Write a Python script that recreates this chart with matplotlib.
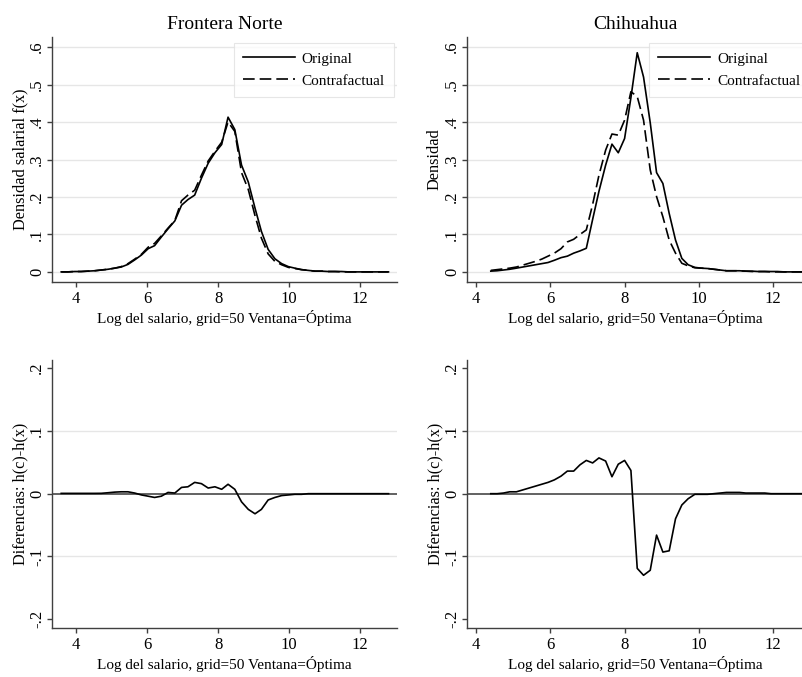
import matplotlib
matplotlib.use("Agg")
import matplotlib.pyplot as plt
from matplotlib.ticker import FuncFormatter

plt.rcParams['font.family'] = ['Liberation Serif', 'DejaVu Serif']

# ---- data: Frontera Norte (grid=50) ----
x_fn = [3.58, 3.77, 3.96, 4.14, 4.33, 4.52, 4.71, 4.90, 5.09, 5.27,
        5.46, 5.65, 5.84, 6.03, 6.21, 6.40, 6.59, 6.78, 6.97, 7.15,
        7.34, 7.53, 7.72, 7.91, 8.10, 8.28, 8.47, 8.66, 8.85, 9.04,
        9.22, 9.41, 9.60, 9.79, 9.98, 10.16, 10.35, 10.54, 10.73, 10.92,
        11.10, 11.29, 11.48, 11.67, 11.86, 12.05, 12.23, 12.42, 12.61, 12.80]
orig_fn = [0.000, 0.000, 0.001, 0.001, 0.002, 0.003, 0.005, 0.007, 0.010, 0.013,
           0.020, 0.032, 0.045, 0.062, 0.070, 0.093, 0.115, 0.136, 0.178, 0.193,
           0.205, 0.250, 0.290, 0.318, 0.340, 0.413, 0.380, 0.285, 0.240, 0.170,
           0.108, 0.060, 0.035, 0.022, 0.014, 0.010, 0.006, 0.004, 0.002, 0.002,
           0.001, 0.001, 0.001, 0.000, 0.000, 0.000, 0.000, 0.000, 0.000, 0.000]
cf_fn = [0.000, 0.000, 0.001, 0.001, 0.002, 0.003, 0.005, 0.007, 0.010, 0.014,
         0.022, 0.034, 0.047, 0.066, 0.076, 0.096, 0.117, 0.137, 0.190, 0.205,
         0.218, 0.258, 0.296, 0.322, 0.346, 0.400, 0.375, 0.265, 0.220, 0.150,
         0.090, 0.048, 0.028, 0.019, 0.012, 0.009, 0.006, 0.004, 0.002, 0.002,
         0.001, 0.001, 0.000, 0.000, 0.000, 0.000, 0.000, 0.000, 0.000, 0.000]
diff_fn = [0.0005, 0.0005, 0.0005, 0.0005, 0.0005, 0.0005, 0.0006, 0.0015, 0.0025, 0.003,
           0.003, 0.001, -0.002, -0.004, -0.006, -0.004, 0.002, 0.001, 0.010, 0.011,
           0.018, 0.016, 0.009, 0.011, 0.007, 0.015, 0.007, -0.013, -0.025, -0.032,
           -0.025, -0.010, -0.006, -0.003, -0.002, -0.001, -0.001, 0.000, 0.000, 0.000,
           0.000, 0.000, 0.000, 0.000, 0.000, 0.000, 0.000, 0.000, 0.000, 0.000]

# ---- data: Chihuahua (grid=50) ----
x_ch = [4.40, 4.57, 4.74, 4.91, 5.09, 5.26, 5.43, 5.60, 5.77, 5.94,
        6.11, 6.29, 6.46, 6.63, 6.80, 6.97, 7.14, 7.31, 7.49, 7.66,
        7.83, 8.00, 8.17, 8.34, 8.51, 8.69, 8.86, 9.03, 9.20, 9.37,
        9.54, 9.71, 9.89, 10.06, 10.23, 10.40, 10.57, 10.74, 10.91, 11.09,
        11.26, 11.43, 11.60, 11.77, 11.94, 12.11, 12.29, 12.46, 12.63, 12.80]
orig_ch = [0.002, 0.003, 0.005, 0.007, 0.010, 0.013, 0.016, 0.019, 0.022, 0.025,
           0.031, 0.038, 0.042, 0.050, 0.056, 0.063, 0.140, 0.215, 0.285, 0.341,
           0.318, 0.356, 0.465, 0.585, 0.520, 0.398, 0.265, 0.236, 0.156, 0.085,
           0.036, 0.019, 0.012, 0.010, 0.009, 0.007, 0.005, 0.003, 0.003, 0.003,
           0.002, 0.002, 0.001, 0.001, 0.001, 0.001, 0.000, 0.000, 0.000, 0.000]
cf_ch = [0.004, 0.006, 0.008, 0.010, 0.013, 0.018, 0.023, 0.028, 0.034, 0.042,
         0.050, 0.062, 0.080, 0.087, 0.100, 0.112, 0.180, 0.258, 0.325, 0.368,
         0.365, 0.405, 0.481, 0.468, 0.405, 0.272, 0.201, 0.147, 0.085, 0.050,
         0.023, 0.016, 0.011, 0.010, 0.009, 0.007, 0.005, 0.003, 0.003, 0.003,
         0.002, 0.001, 0.001, 0.001, 0.000, 0.000, 0.000, 0.000, 0.000, 0.000]
diff_ch = [0.000, 0.000, 0.001, 0.003, 0.003, 0.006, 0.009, 0.012, 0.015, 0.018,
           0.022, 0.028, 0.036, 0.036, 0.046, 0.053, 0.049, 0.057, 0.052, 0.027,
           0.047, 0.053, 0.037, -0.119, -0.130, -0.122, -0.066, -0.093, -0.091, -0.040,
           -0.018, -0.008, -0.001, -0.001, -0.001, 0.000, 0.001, 0.002, 0.002, 0.002,
           0.001, 0.001, 0.001, 0.001, 0.000, 0.000, 0.000, 0.000, 0.000, 0.000]

titles = ["Frontera Norte", "Chihuahua"]
ylabels_top = ["Densidad salarial f(x)", "Densidad"]
xlabel = "Log del salario, grid=50 Ventana=Óptima"
legend_labels = ["Original", "Contrafactual"]

W, H = 803, 677
fig = plt.figure(figsize=(W / 100, H / 100), dpi=100)


def box(l, r, t, b):
    return [l / W, 1 - b / H, (r - l) / W, (b - t) / H]


def stata_fmt(v, pos):
    if abs(v) < 1e-9:
        return "0"
    s = "%g" % round(v, 2)
    return s.replace("0.", ".")


def style(ax, yticks, xlim, ylim):
    ax.set_xlim(*xlim)
    ax.set_ylim(*ylim)
    for s in ["top", "right"]:
        ax.spines[s].set_visible(False)
    for s in ["left", "bottom"]:
        ax.spines[s].set_color("#404040")
        ax.spines[s].set_linewidth(1.0)
    ax.set_xticks([4, 6, 8, 10, 12])
    ax.set_yticks(yticks)
    ax.yaxis.set_major_formatter(FuncFormatter(stata_fmt))
    ax.tick_params(axis="both", colors="#404040", labelcolor="black",
                   length=3.8, width=1.0, labelsize=12)
    ax.tick_params(axis="y", pad=1)
    ax.tick_params(axis="x", pad=3)
    for lab in ax.get_yticklabels():
        lab.set_rotation(90)
        lab.set_va("center")
    ax.set_xlabel(xlabel, fontsize=11, labelpad=2)


top_boxes = [box(52, 397, 37, 282), box(467, 803, 37, 282)]
bot_boxes = [box(52, 397, 360, 628), box(467, 803, 360, 628)]
xlims = [(3.32, 13.04), (3.76, 12.80)]
leg_x = [0.527, 0.542]

tops = [(x_fn, orig_fn, cf_fn), (x_ch, orig_ch, cf_ch)]
bots = [(x_fn, diff_fn), (x_ch, diff_ch)]

for i in range(2):
    ax = fig.add_axes(top_boxes[i])
    yt = [0, 0.1, 0.2, 0.3, 0.4, 0.5, 0.6]
    for g in yt:
        ax.axhline(g, color="#e6e6e6", lw=1.0, zorder=0)
    xs, o, c = tops[i]
    ax.plot(xs, o, color="black", lw=1.2, label=legend_labels[0])
    ax.plot(xs, c, color="black", lw=1.2, dashes=(7, 3), label=legend_labels[1])
    style(ax, yt, xlims[i], (-0.027, 0.627))
    ax.set_ylabel(ylabels_top[i], fontsize=11.7, labelpad=1)
    ax.set_title(titles[i], fontsize=14, pad=6)
    leg = ax.legend(loc="upper left", bbox_to_anchor=(leg_x[i], 0.976), fontsize=11,
                    frameon=True, fancybox=False, handlelength=3.4,
                    borderpad=0.6, labelspacing=0.55, handletextpad=0.45,
                    borderaxespad=0.0)
    leg.get_frame().set_edgecolor("#e0e0e0")
    leg.get_frame().set_linewidth(0.8)

    ax2 = fig.add_axes(bot_boxes[i])
    for g in [-0.1, 0.1]:
        ax2.axhline(g, color="#e6e6e6", lw=1.0, zorder=0)
    ax2.axhline(0, color="#555555", lw=1.3, zorder=1)
    xs, d = bots[i]
    ax2.plot(xs, d, color="black", lw=1.2, zorder=2)
    style(ax2, [-0.2, -0.1, 0, 0.1, 0.2], xlims[i], (-0.214, 0.213))
    ax2.set_ylabel("Diferencias: h(c)-h(x)", fontsize=11.7, labelpad=1)

fig.savefig("out.png", dpi=100)
